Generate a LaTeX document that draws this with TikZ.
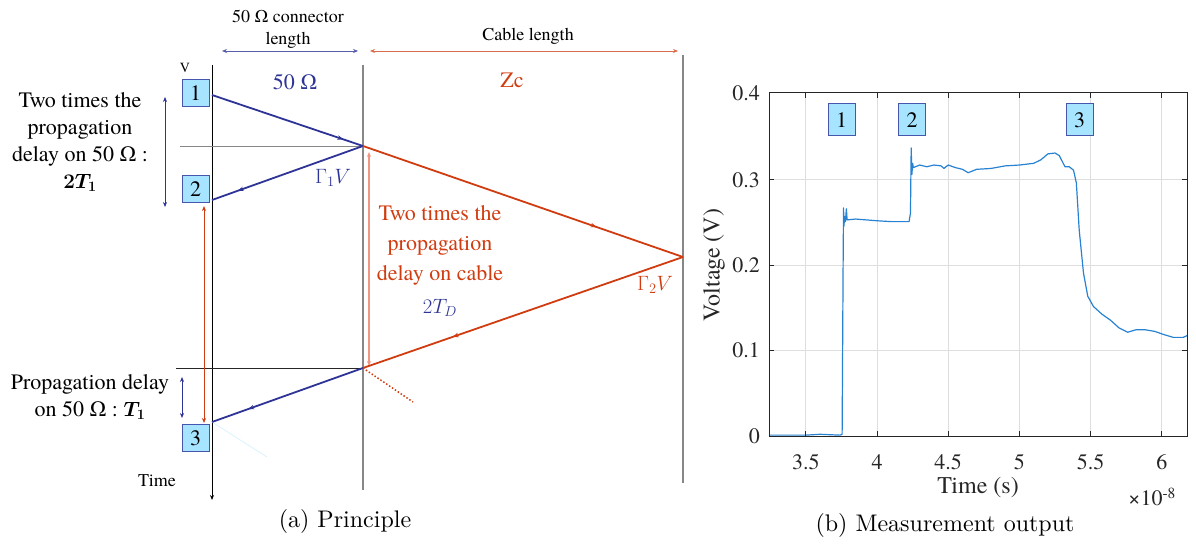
\documentclass[tikz,border=0pt]{standalone}
\usepackage{amsmath}
\usepackage{fontspec}
\newfontfamily\tnr{texgyretermes}[Extension=.otf,UprightFont=*-regular,BoldFont=*-bold,ItalicFont=*-italic,BoldItalicFont=*-bolditalic]
\newfontfamily\capf{lmroman10-regular}[Extension=.otf]
\usetikzlibrary{arrows.meta,decorations.markings}
\definecolor{dblue}{RGB}{46,52,150}
\definecolor{bfill}{RGB}{166,228,255}
\definecolor{bbord}{RGB}{70,86,175}
\definecolor{dred}{RGB}{208,60,16}
\definecolor{lred}{RGB}{240,150,130}
\definecolor{mblue}{RGB}{40,130,210}
\definecolor{axg}{RGB}{38,38,38}
\definecolor{gridg}{RGB}{222,222,222}
\definecolor{vgray}{RGB}{135,135,135}
\begin{document}
\begin{tikzpicture}[x=1pt,y=-1pt,
  dimarr/.style={arrows={Stealth[length=5pt,width=4pt]-Stealth[length=5pt,width=4pt]}},
  midarrow/.style={postaction={decorate},decoration={markings,mark=at position #1 with {\arrow{Stealth[length=6pt,width=4.5pt]}}}},
  numbox/.style={draw=bbord,fill=bfill,line width=1pt,minimum width=27pt,minimum height=27pt,inner sep=0pt,font=\tnr\fontsize{22}{26}\selectfont},
  bigtxt/.style={font=\tnr\fontsize{22}{27}\selectfont,align=center,inner sep=0pt},
  midtxt/.style={font=\tnr\fontsize{18}{22}\selectfont,align=center,inner sep=0pt},
  axlab/.style={font=\tnr\fontsize{22}{26}\selectfont,text=axg,inner sep=0pt},
  captxt/.style={font=\capf\fontsize{24}{28}\selectfont,inner sep=0pt},
  wave/.style={line width=1.2pt,line join=round},
  dim/.style={line width=0.7pt}
]
\useasboundingbox (0,0) rectangle (1196,545);

% ---------------- (a) Principle ----------------
\coordinate (p1) at (212,95);
\coordinate (p2) at (363,146);
\coordinate (p3) at (212,200);
\coordinate (p4) at (683,257);
\coordinate (p5) at (363,368);
\coordinate (p6) at (212,422);
\coordinate (p7) at (413,402);

% vertical lines
\coordinate (axtop) at (212,65);
\coordinate (axbot) at (212,500);
\draw[line width=0.9pt,-{Stealth[length=5pt,width=4pt]}] (axtop) -- (axbot);
\coordinate (m1) at (363,65);
\coordinate (m2) at (363,490);
\draw[vgray,line width=1.2pt] (m1) -- (m2);
\coordinate (e1) at (683,55);
\coordinate (e2) at (683,483);
\draw[vgray,line width=1.2pt] (e1) -- (e2);

% horizontal reference lines
\coordinate (h1) at (180,146);
\coordinate (h2) at (176,368);
\draw[vgray,line width=0.9pt] (h1) -- (p2);
\draw[axg,line width=0.9pt] (h2) -- (p5);

% faint line
\coordinate (f2) at (267,457);
\draw[cyan!15,line width=0.8pt] (p6) -- (f2);

% dimension arrows
\coordinate (d1) at (222,51); \coordinate (d2) at (358,51);
\draw[dim,dblue!80,dimarr] (d1) -- (d2);
\coordinate (d3) at (370,51); \coordinate (d4) at (678,51);
\draw[dim,dred!75,dimarr] (d3) -- (d4);

\node[midtxt] (conn) at (288,29) {50 Ω connector\\length};
\node[midtxt] (cabl) at (528,36) {Cable length};
\node[font=\tnr\fontsize{14}{16}\selectfont,inner sep=0pt] (vlab) at (185,68) {V};
\node[bigtxt,text=dblue] (fifty) at (295,82) {50 Ω};
\node[bigtxt,text=dred] (zc) at (512,80) {Zc};

% boxes
\node[numbox] (b1) at (195.5,93.5) {1};
\node[numbox] (b2) at (195.5,189.5) {2};
\node[numbox] (b3) at (195.5,438) {3};

% vertical measurement arrows
\coordinate (v1) at (165,97); \coordinate (v2) at (165,207);
\draw[dim,dblue,dimarr] (v1) -- (v2);
\coordinate (v3) at (182,377); \coordinate (v4) at (182,418);
\draw[dim,dblue,dimarr] (v3) -- (v4);
\coordinate (r1) at (204,206); \coordinate (r2) at (204,423);
\draw[dim,dred,dimarr] (r1) -- (r2);
\coordinate (r3) at (369,152); \coordinate (r4) at (369,366);
\draw[line width=1.2pt,lred,dimarr] (r3) -- (r4);

% reflection lines
\draw[dblue,line width=1.8pt,midarrow=0.87] (p1) -- (p2);
\draw[dblue,line width=1.8pt,midarrow=0.83] (p2) -- (p3);
\draw[dred,line width=1.8pt,midarrow=0.73] (p2) -- (p4);
\draw[dred,line width=1.8pt,midarrow=0.72] (p4) -- (p5);
\draw[dblue,line width=1.8pt,midarrow=0.76] (p5) -- (p6);
\draw[dred,line width=1.5pt,dotted] (p5) -- (p7);

% labels
\node[bigtxt,text=dblue] (g1) at (333,178) {$\Gamma_1 V$};
\node[bigtxt,text=dred] (g2) at (655,285) {$\Gamma_2 V$};
\node[bigtxt] (lt1) at (80,142) {Two times the\\propagation\\delay on 50 Ω :\\$\boldsymbol{2T_1}$};
\node[bigtxt,text=dred,font=\tnr\fontsize{22}{30}\selectfont] (rt1) at (440,245) {Two times the\\propagation\\delay on cable};
\node[bigtxt,text=dblue] (td) at (440,308) {$2T_D$};
\node[bigtxt] (lt2) at (90,397) {Propagation delay\\on 50 Ω : $\boldsymbol{T_1}$};
\node[midtxt] (tim) at (157,481) {Time};
\node[captxt] (capa) at (345,521) {(a) Principle};

% ---------------- (b) Measurement output ----------------
% grid
\foreach \xx in {805.8,877,948.2,1019.4,1090.6,1161.8}
  \draw[gridg,line width=0.9pt] (\xx,93) -- (\xx,436);
\foreach \yy in {179.75,265.5,350.25}
  \draw[gridg,line width=0.9pt] (769,\yy) -- (1187,\yy);
% curve
\begin{scope}[shift={(307.4,436)},x=142.4pt,y=857.5pt]
\draw[mblue,wave] plot coordinates {
(3.242,0.001) (3.5,0.001) (3.6,0.002) (3.74,0.001) (3.755,0.002) (3.762,0.20) (3.765,0.266) (3.768,0.245) (3.772,0.256) (3.778,0.250) (3.785,0.265) (3.79,0.252) (3.85,0.253) (4.0,0.251) (4.1,0.250) (4.225,0.250) (4.235,0.26) (4.24,0.336) (4.245,0.305) (4.25,0.318) (4.255,0.313) (4.3,0.316) (4.35,0.314) (4.4,0.316) (4.45,0.315) (4.47,0.312) (4.5,0.316) (4.55,0.313) (4.6,0.311) (4.64,0.307) (4.7,0.311) (4.8,0.312) (4.9,0.315) (5.0,0.316) (5.1,0.318) (5.15,0.322) (5.2,0.329) (5.25,0.330) (5.28,0.327) (5.32,0.314) (5.35,0.314) (5.38,0.310) (5.40,0.295) (5.42,0.24) (5.45,0.19) (5.48,0.163) (5.52,0.151) (5.58,0.142) (5.64,0.135) (5.7,0.126) (5.76,0.121) (5.82,0.124) (5.88,0.124) (5.95,0.122) (6.02,0.118) (6.08,0.115) (6.15,0.115) (6.177,0.117)};
\end{scope}
% axes box and ticks
\draw[axg,line width=1pt] (769,93) rectangle (1187,436);
\foreach \xx in {805.8,877,948.2,1019.4,1090.6,1161.8}
  {\draw[axg,line width=1pt] (\xx,436) -- (\xx,431);
   \draw[axg,line width=1pt] (\xx,93) -- (\xx,98);}
\foreach \yy in {93,179.75,265.5,350.25,436}
  {\draw[axg,line width=1pt] (769,\yy) -- (774,\yy);
   \draw[axg,line width=1pt] (1187,\yy) -- (1182,\yy);}
% tick labels
\node[axlab,anchor=east] (y0) at (760,436) {0};
\node[axlab,anchor=east] (y1) at (760,350.25) {0.1};
\node[axlab,anchor=east] (y2) at (760,265.5) {0.2};
\node[axlab,anchor=east] (y3) at (760,179.75) {0.3};
\node[axlab,anchor=east] (y4) at (760,93) {0.4};
\node[axlab] (x1) at (805.8,462) {3.5};
\node[axlab] (x2) at (877,462) {4};
\node[axlab] (x3) at (948.2,462) {4.5};
\node[axlab] (x4) at (1019.4,462) {5};
\node[axlab] (x5) at (1090.6,462) {5.5};
\node[axlab] (x6) at (1161.8,462) {6};
\node[axlab,font=\tnr\fontsize{24}{28}\selectfont] (xl) at (978,488) {Time (s)};
\node[axlab,font=\tnr\fontsize{24}{28}\selectfont,rotate=90] (yl) at (714,265) {Voltage (V)};
\node[axlab] (ex) at (1152,497) {×10\textsuperscript{-8}};
% number boxes
\node[numbox,minimum height=32pt] (c1) at (841.5,120) {1};
\node[numbox,minimum height=32pt] (c2) at (912,120) {2};
\node[numbox,minimum height=32pt] (c3) at (1079.5,120) {3};
\node[captxt] (capb) at (945,525) {(b) Measurement output};
\end{tikzpicture}
\end{document}
